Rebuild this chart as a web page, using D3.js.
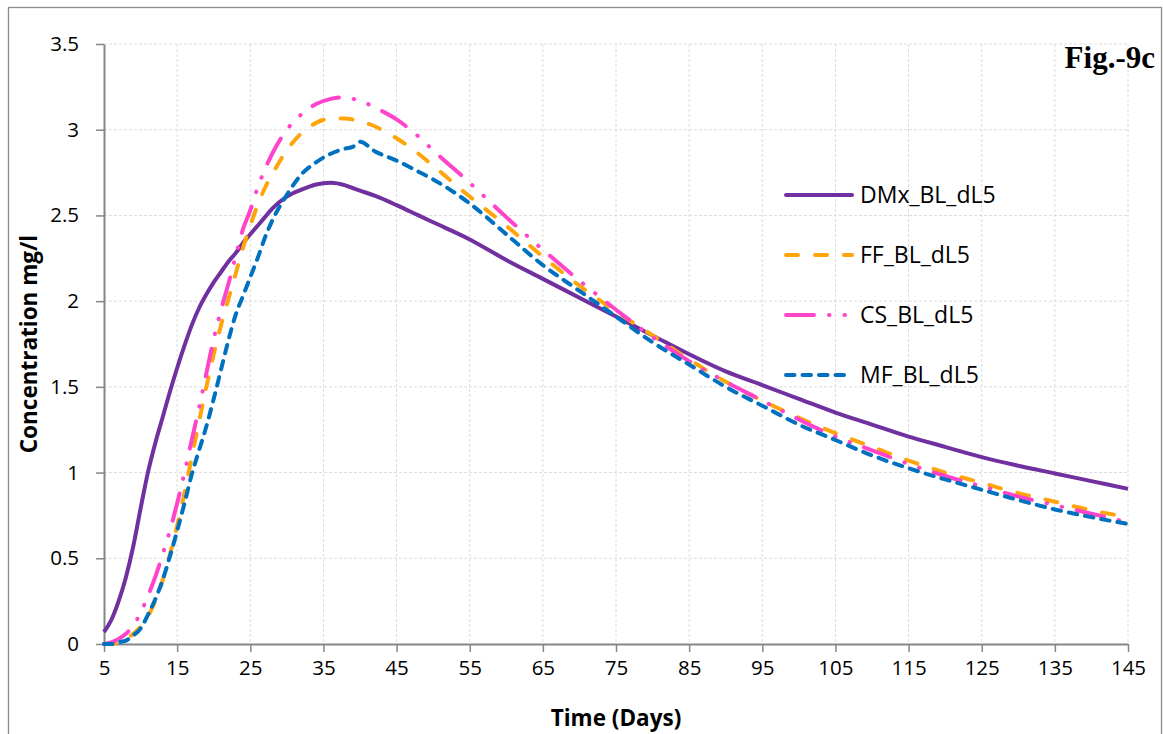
<!DOCTYPE html>
<html>
<head>
<meta charset="utf-8">
<script src="https://cdn.jsdelivr.net/npm/d3@7"></script>
<style>
  html, body { margin: 0; padding: 0; background: #ffffff; }
  svg { display: block; }
</style>
</head>
<body>
<div id="chart"></div>
<script>
// Sampling days (shared by all four series)
const days = [5,6,7,8,9,10,11,12,13,14,15,16,17,18,19,20,21,22,23,24,25,26,27,28,
  30,32,34,36,38,39,40,42,45,48,50,55,60,65,70,75,80,85,90,95,100,105,110,115,120,125,130,135,140,145];

// Concentration (mg/l) for each model
const dmxValues = [0.07,0.14,0.25,0.39,0.57,0.79,1.00,1.17,1.32,1.47,1.61,1.74,1.86,1.96,2.04,2.11,2.17,2.23,2.28,2.34,2.39,2.44,2.49,2.54,
  2.61,2.65,2.68,2.69,2.675,2.66,2.645,2.615,2.56,2.50,2.46,2.36,2.24,2.13,2.02,1.91,1.80,1.69,1.59,1.51,1.43,1.35,1.28,1.21,1.15,1.09,1.04,0.995,0.95,0.905];
const ffValues = [0,0,0.01,0.03,0.06,0.10,0.16,0.25,0.37,0.52,0.69,0.88,1.09,1.30,1.50,1.69,1.86,2.01,2.16,2.31,2.44,2.56,2.66,2.74,
  2.88,2.98,3.04,3.065,3.065,3.06,3.05,3.02,2.95,2.86,2.79,2.61,2.44,2.26,2.09,1.94,1.80,1.66,1.53,1.42,1.32,1.23,1.15,1.07,1.00,0.94,0.88,0.83,0.78,0.74];
const csValues = [0,0.01,0.03,0.06,0.11,0.18,0.28,0.39,0.52,0.66,0.82,1.00,1.19,1.38,1.58,1.78,1.95,2.10,2.26,2.42,2.53,2.66,2.77,2.86,
  3.00,3.09,3.15,3.18,3.19,3.18,3.17,3.13,3.06,2.96,2.88,2.69,2.49,2.30,2.12,1.95,1.79,1.65,1.53,1.42,1.31,1.21,1.13,1.05,0.98,0.92,0.86,0.81,0.76,0.71];
const mfValues = [0,0,0.01,0.02,0.05,0.09,0.17,0.26,0.37,0.51,0.66,0.82,0.99,1.13,1.27,1.43,1.60,1.77,1.92,2.03,2.14,2.25,2.37,2.47,
  2.62,2.74,2.81,2.86,2.89,2.90,2.93,2.875,2.82,2.755,2.71,2.57,2.39,2.21,2.06,1.91,1.76,1.63,1.50,1.39,1.28,1.19,1.10,1.025,0.96,0.90,0.84,0.785,0.74,0.70];

const seriesNames = ["DMx_BL_dL5", "FF_BL_dL5", "CS_BL_dL5", "MF_BL_dL5"];
const seriesValues = [dmxValues, ffValues, csValues, mfValues];

// Axis ticks
const xTicks = [5,15,25,35,45,55,65,75,85,95,105,115,125,135,145];
const yTicks = [0,0.5,1,1.5,2,2.5,3,3.5];

// Line styles per series
const styles = [
  { color: "#7030A0", dash: null },
  { color: "#FFA50A", dash: "12,17" },
  { color: "#FF44CC", dash: "28,15,0.5,15,0.5,15" },
  { color: "#0070C0", dash: "8.5,8" }
];

const W = 1163, H = 734;
const svg = d3.select("#chart").append("svg").attr("width", W).attr("height", H);

// Outer chart frame
svg.append("rect").attr("x", 8.5).attr("y", 7.5).attr("width", 1153).attr("height", 740)
  .attr("fill", "#fff").attr("stroke", "#8c8c8c").attr("stroke-width", 1.3);

const x = d3.scaleLinear().domain([5, 145]).range([104, 1128]);
const y = d3.scaleLinear().domain([0, 3.5]).range([644, 44]);

const FONT = "'Open Sans', 'Noto Sans', sans-serif";

// Gridlines
const grid = svg.append("g");
grid.selectAll("line.v").data(xTicks.slice(1)).join("line")
  .attr("x1", d => x(d)).attr("x2", d => x(d)).attr("y1", y(3.5)).attr("y2", y(0))
  .attr("stroke", "#dcdcdc").attr("stroke-width", 1).attr("stroke-dasharray", "3,2");
grid.selectAll("line.h").data(yTicks.slice(1)).join("line")
  .attr("x1", x(5)).attr("x2", x(145)).attr("y1", d => y(d)).attr("y2", d => y(d))
  .attr("stroke", "#dcdcdc").attr("stroke-width", 1).attr("stroke-dasharray", "3,2");

// Axes
const xAxis = svg.append("g").attr("transform", `translate(0,${y(0)})`)
  .call(d3.axisBottom(x).tickValues(xTicks).tickFormat(d3.format("d")).tickSizeInner(8).tickSizeOuter(0).tickPadding(8));
const yAxis = svg.append("g").attr("transform", `translate(${x(5)},0)`)
  .call(d3.axisLeft(y).tickValues(yTicks).tickFormat(d => String(d)).tickSizeInner(8).tickSizeOuter(0).tickPadding(17));
[xAxis, yAxis].forEach(g => {
  g.select(".domain").attr("stroke", "#868686").attr("stroke-width", 2);
  g.selectAll(".tick line").attr("stroke", "#868686").attr("stroke-width", 1.5);
  g.selectAll(".tick text").attr("fill", "#000").style("font-family", FONT).style("font-size", "20.5px");
});

// Curves
const line = d3.line().x(d => x(d[0])).y(d => y(d[1])).curve(d3.curveMonotoneX);
seriesValues.forEach((vals, i) => {
  const pts = days.map((t, k) => [t, vals[k]]);
  svg.append("path").datum(pts)
    .attr("d", line)
    .attr("fill", "none")
    .attr("stroke", styles[i].color)
    .attr("stroke-width", 4)
    .attr("stroke-linecap", styles[i].dash ? "round" : "butt")
    .attr("stroke-linejoin", "round")
    .attr("stroke-dasharray", styles[i].dash);
});

// Legend
const legendRows = [195, 255, 315, 375];
const legend = svg.append("g");
seriesNames.forEach((name, i) => {
  legend.append("line")
    .attr("x1", 786).attr("x2", 852).attr("y1", legendRows[i]).attr("y2", legendRows[i])
    .attr("stroke", styles[i].color).attr("stroke-width", 4)
    .attr("stroke-linecap", "round")
    .attr("stroke-dasharray", styles[i].dash);
  legend.append("text")
    .attr("x", 860).attr("y", legendRows[i]).attr("dy", "0.35em")
    .style("font-family", FONT).style("font-size", "23px").attr("fill", "#000")
    .text(name);
});

// Axis titles
svg.append("text")
  .attr("x", (x(5) + x(145)) / 2).attr("y", 726)
  .attr("text-anchor", "middle")
  .style("font-family", FONT).style("font-size", "22.5px").style("font-weight", "bold")
  .text("Time (Days)");
svg.append("text")
  .attr("transform", `translate(37,${(y(0) + y(3.5)) / 2}) rotate(-90)`)
  .attr("text-anchor", "middle")
  .style("font-family", FONT).style("font-size", "22.5px").style("font-weight", "bold")
  .text("Concentration mg/l");

// Figure label
svg.append("text")
  .attr("x", 1155).attr("y", 68)
  .attr("text-anchor", "end")
  .style("font-family", "'Liberation Serif', 'Times New Roman', serif")
  .style("font-size", "31px").style("font-weight", "bold")
  .text("Fig.-9c");
</script>
</body>
</html>
